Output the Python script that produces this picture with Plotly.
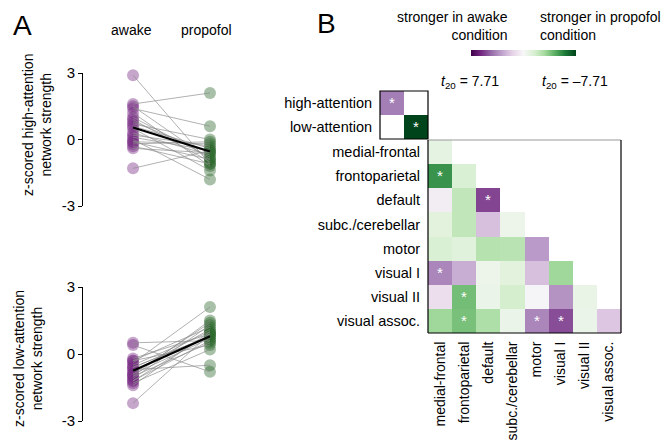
import plotly.graph_objects as go

W, H = 665, 443
FONT = "Liberation Sans"

# ---------------- data ----------------
conditions = ["awake", "propofol"]

high_awake = [2.9, 1.6, 1.5, 1.4, 1.2, 1.0, 0.9, 0.8, 0.7, 0.6, 0.5, 0.3, 0.2, 0.1, 0.0, -0.1, -0.1, -0.2, -0.3, -0.4, -1.3]
high_propofol = [-1.1, 2.1, -0.9, 0.6, -1.2, -0.8, -1.0, -0.6, 0.0, -0.4, -1.4, -0.7, -0.3, -0.5, -1.8, -0.2, -0.9, -0.1, -1.1, -0.6, -0.5]

low_awake = [0.5, 0.4, -0.2, -0.3, -0.3, -0.4, -0.5, -0.6, -0.7, -0.8, -0.9, -1.0, -1.0, -1.1, -1.2, -1.3, -1.4, -1.2, -0.6, -0.9, -2.2]
low_propofol = [0.6, -0.8, 0.9, 1.2, 0.4, 2.1, 1.0, 0.8, -0.5, 1.1, 0.7, 1.5, 0.5, 1.3, 0.9, 0.2, 1.0, 0.6, 0.8, 1.4, 0.9]

net_small = ["high-attention", "low-attention"]
t_small = [[4.2, None], [None, -7.71]]
star_small = [["*", ""], ["", "*"]]

networks = ["medial-frontal", "frontoparietal", "default", "subc./cerebellar",
            "motor", "visual I", "visual II", "visual assoc."]
t_rows = [
    [-0.9],
    [-5.4, -1.5],
    [0.45, -2.3, 5.6],
    [-1.1, -2.3, 2.2, -0.5],
    [-1.5, -1.2, -2.6, -2.5, 3.4],
    [4.0, 2.8, -0.5, -1.1, 2.2, -3.2],
    [1.1, -4.1, -0.6, -1.7, 0.15, 3.6, -0.7],
    [-3.2, -4.0, -2.8, -0.6, 4.0, 5.4, -0.6, 2.0],
]
stars = [("frontoparietal", "medial-frontal"), ("default", "default"),
         ("visual I", "medial-frontal"), ("visual II", "frontoparietal"),
         ("visual assoc.", "frontoparietal"), ("visual assoc.", "motor"),
         ("visual assoc.", "visual I")]
t_max = 7.71

# ---------------- helpers ----------------
def px_x(p):
    return p / W

def px_y(p):
    return 1 - p / H

purple_m = "rgba(118,42,131,0.42)"
green_m = "rgba(45,105,45,0.42)"

fig = go.Figure()

def add_paired(awake, prop, xa, ya):
    fig.add_trace(go.Scatter(x=[0] * len(awake), y=awake, mode="markers",
                             marker=dict(size=12, color=purple_m, line=dict(width=0)),
                             xaxis=xa, yaxis=ya, cliponaxis=False, showlegend=False, hoverinfo="skip"))
    fig.add_trace(go.Scatter(x=[1] * len(prop), y=prop, mode="markers",
                             marker=dict(size=12, color=green_m, line=dict(width=0)),
                             xaxis=xa, yaxis=ya, cliponaxis=False, showlegend=False, hoverinfo="skip"))
    lx, ly = [], []
    for a, p in zip(awake, prop):
        lx += [0, 1, None]
        ly += [a, p, None]
    fig.add_trace(go.Scatter(x=lx, y=ly, mode="lines", line=dict(color="rgba(140,140,140,0.85)", width=0.8),
                             xaxis=xa, yaxis=ya, cliponaxis=False, showlegend=False, hoverinfo="skip"))
    ma = sum(awake) / len(awake)
    mp = sum(prop) / len(prop)
    fig.add_trace(go.Scatter(x=[0, 1], y=[ma, mp], mode="lines", line=dict(color="black", width=2.2),
                             xaxis=xa, yaxis=ya, cliponaxis=False, showlegend=False, hoverinfo="skip"))

add_paired(high_awake, high_propofol, "x", "y")
add_paired(low_awake, low_propofol, "x2", "y2")

# small heatmap
fig.add_trace(go.Heatmap(z=[[None if v is None else -v for v in r] for r in t_small],
                         x=net_small, y=net_small, coloraxis="coloraxis",
                         text=star_small, texttemplate="%{text}",
                         textfont=dict(color="white", size=15, family=FONT),
                         xaxis="x3", yaxis="y3", hoverinfo="skip", xgap=0, ygap=0))

# big heatmap
n = len(networks)
z_big, txt_big = [], []
for i in range(n):
    zr, tr = [], []
    for j in range(n):
        if j <= i:
            zr.append(-t_rows[i][j])
            tr.append("*" if (networks[i], networks[j]) in stars else "")
        else:
            zr.append(None)
            tr.append("")
    z_big.append(zr)
    txt_big.append(tr)

fig.add_trace(go.Heatmap(z=z_big, x=networks, y=networks, coloraxis="coloraxis",
                         text=txt_big, texttemplate="%{text}",
                         textfont=dict(color="white", size=15, family=FONT),
                         xaxis="x4", yaxis="y4", hoverinfo="skip"))

prgn = [[0.0, "rgb(64,0,75)"], [0.1, "rgb(118,42,131)"], [0.2, "rgb(153,112,171)"],
        [0.3, "rgb(194,165,207)"], [0.4, "rgb(231,212,232)"], [0.5, "rgb(247,247,247)"],
        [0.6, "rgb(217,240,211)"], [0.7, "rgb(166,219,160)"], [0.8, "rgb(90,174,97)"],
        [0.9, "rgb(27,120,55)"], [1.0, "rgb(0,68,27)"]]

tickfont = dict(family=FONT, size=15, color="black")
labfont = dict(family=FONT, size=14.5, color="black")
xlabfont = dict(family=FONT, size=14, color="black")

scatter_x = dict(range=[-0.65, 1.65], visible=False, fixedrange=True)
def scatter_y(anchor, top, bottom):
    return dict(domain=[px_y(bottom), px_y(top)], range=[-3, 3], anchor=anchor,
                showline=True, linecolor="black", linewidth=1, ticks="outside", ticklen=4,
                tickcolor="black", tickvals=[-3, 0, 3], ticktext=["-3", "0", "3"],
                tickfont=tickfont, showgrid=False, zeroline=False, automargin=False)

fig.update_layout(
    width=W, height=H, margin=dict(l=0, r=0, t=0, b=0),
    paper_bgcolor="white", plot_bgcolor="white",
    font=dict(family=FONT, size=14, color="black"),
    xaxis=dict(domain=[px_x(83), px_x(260)], anchor="y", **scatter_x),
    yaxis=scatter_y("x", 73, 206),
    xaxis2=dict(domain=[px_x(83), px_x(260)], anchor="y2", **scatter_x),
    yaxis2=scatter_y("x2", 287, 421),
    xaxis3=dict(domain=[px_x(380), px_x(428)], anchor="y3", showticklabels=False, ticks="",
                showgrid=False, zeroline=False, automargin=False),
    yaxis3=dict(domain=[px_y(139), px_y(91)], anchor="x3", autorange="reversed",
                ticks="outside", ticklen=4, tickcolor="rgba(0,0,0,0)", tickfont=labfont,
                showgrid=False, zeroline=False, automargin=False),
    xaxis4=dict(domain=[px_x(428), px_x(621)], anchor="y4", tickangle=-90,
                ticks="outside", ticklen=2, tickcolor="rgba(0,0,0,0)", tickfont=xlabfont,
                showgrid=False, zeroline=False, automargin=False),
    yaxis4=dict(domain=[px_y(333), px_y(140)], anchor="x4", autorange="reversed",
                ticks="outside", ticklen=4, tickcolor="rgba(0,0,0,0)", tickfont=labfont,
                showgrid=False, zeroline=False, automargin=False),
    coloraxis=dict(colorscale=prgn, cmin=-t_max, cmax=t_max,
                   colorbar=dict(orientation="h", x=px_x(523.5), xanchor="center",
                                 y=px_y(50), yanchor="top", thickness=6, len=105, lenmode="pixels",
                                 outlinewidth=0, showticklabels=False, ticks="", xpad=0, ypad=0)),
)

shapes = [
    dict(type="rect", xref="x3 domain", yref="y3 domain", x0=0, x1=1, y0=0, y1=1,
         line=dict(color="black", width=1.2)),
    dict(type="line", xref="x4 domain", yref="y4 domain", x0=0, x1=1, y0=1, y1=1,
         line=dict(color="#999999", width=1.2)),
    dict(type="line", xref="x4 domain", yref="y4 domain", x0=0, x1=0, y0=0, y1=1,
         line=dict(color="black", width=1.2)),
    dict(type="line", xref="x4 domain", yref="y4 domain", x0=1, x1=1, y0=0, y1=1,
         line=dict(color="black", width=1.2)),
    dict(type="line", xref="x4 domain", yref="y4 domain", x0=0, x1=1, y0=0, y1=0,
         line=dict(color="black", width=1.2)),
]
fig.update_layout(shapes=shapes)

def ann(text, x, y, xanchor="center", yanchor="middle", size=14, align="center", angle=0):
    return dict(text=text, x=px_x(x), y=px_y(y), xref="paper", yref="paper",
                xanchor=xanchor, yanchor=yanchor, showarrow=False, align=align,
                textangle=angle, font=dict(family=FONT, size=size, color="black"))

annotations = [
    ann("A", 11, 25, xanchor="left", size=28),
    ann("B", 315, 23, xanchor="left", size=28),
    ann(conditions[0], 131, 30),
    ann(conditions[1], 206, 30),
    ann("z-scored high-attention<br>network strength", 37, 125, angle=-90),
    ann("z-scored low-attention<br>network strength", 28, 359, angle=-90),
    ann("stronger in awake<br>condition", 510, 26, xanchor="right", align="right"),
    ann("stronger in propofol<br>condition", 538, 26, xanchor="left", align="left"),
    ann("<i>t</i><sub>20</sub> = 7.71", 470, 82),
    ann("<i>t</i><sub>20</sub> = \u20137.71", 575, 82),
]
fig.update_layout(annotations=annotations)

fig.write_html("out.html", config={"displayModeBar": False},
               post_script="document.body.style.margin='0';")
